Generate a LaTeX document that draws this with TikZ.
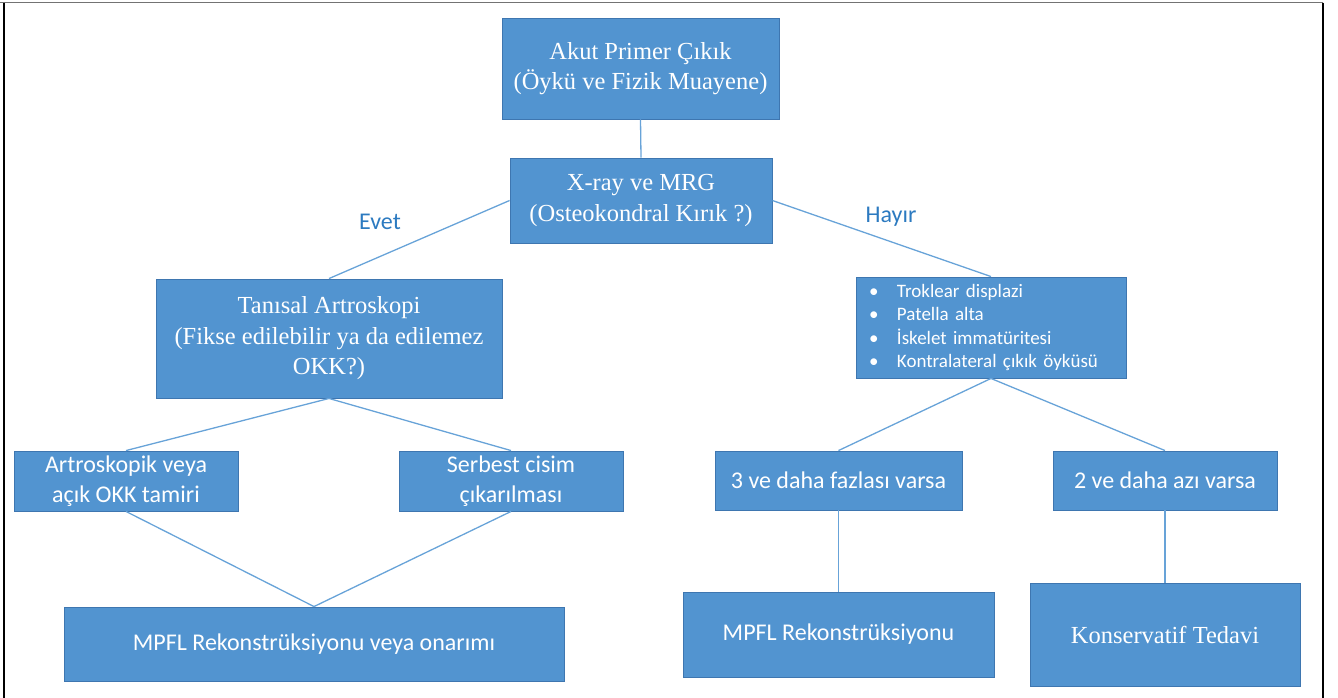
\documentclass[tikz,border=0pt]{standalone}
\usepackage{fontspec}
\setmainfont{Liberation Serif}
\newfontfamily\calibri{Carlito}
\usepackage{xcolor}
\definecolor{boxfill}{RGB}{82,148,208}
\definecolor{boxline}{RGB}{62,118,176}
\definecolor{linkblue}{RGB}{104,163,216}
\definecolor{labelblue}{RGB}{44,122,192}
\usepackage{tikz}
\usetikzlibrary{positioning}

\begin{document}
\begin{tikzpicture}[x=1pt,y=-1pt]
    \useasboundingbox (0,0) rectangle (1338,697);
    \tikzstyle{box}=[rectangle, draw=boxline, line width=0.9pt, fill=boxfill, text=white, inner sep=0pt, align=center]
    \tikzstyle{serifbox}=[box, font=\fontsize{24.5}{30.5}\selectfont]
    \tikzstyle{sansbox}=[box, font=\calibri\fontsize{24}{30}\selectfont]
    \tikzstyle{link}=[draw=linkblue, line width=1.3pt]
    \tikzstyle{answer}=[font=\calibri\fontsize{24}{28}\selectfont, text=labelblue]

    \draw [line width=1.2pt, color=black!55] (0,2.5) -- (1323,2.5);
    \draw [line width=1.2pt] (4,2.5) -- (4,700);
    \draw [line width=1.2pt] (1323,2.5) -- (1323,700);

    \node [serifbox, minimum width=277pt, minimum height=101pt] (akut) at (640.5,68.5)
        {Akut Primer Çıkık\\(Öykü ve Fizik Muayene)};
    \node [serifbox, minimum width=262pt, minimum height=85pt] (xray) at (641,200.5)
        {X-ray ve MRG\\(Osteokondral Kırık ?)};
    \node [serifbox, minimum width=346pt, minimum height=119pt] (tanisal) at (329,338.5)
        {Tanısal Artroskopi\\(Fikse edilebilir ya da edilemez\\OKK?)};
    \node [box, minimum width=270pt, minimum height=101pt, inner xsep=13pt, text width=244pt, align=left,
        font=\calibri\fontsize{19}{23.5}\selectfont] (risk) at (991,327.5)
        {\makebox[28pt][l]{•}Troklear displazi\\
         \makebox[28pt][l]{•}Patella alta\\
         \makebox[28pt][l]{•}İskelet immatüritesi\\
         \makebox[28pt][l]{•}Kontralateral çıkık öyküsü};

    \node [sansbox, minimum width=224pt, minimum height=60pt] (artro) at (126,481)
        {Artroskopik veya\\açık OKK tamiri};
    \node [sansbox, minimum width=224pt, minimum height=60pt] (serbest) at (511,481)
        {Serbest cisim\\çıkarılması};
    \node [sansbox, minimum width=247pt, minimum height=59pt] (fazla) at (838.5,480.5)
        {3 ve daha fazlası varsa};
    \node [sansbox, minimum width=224pt, minimum height=59pt] (az) at (1165,480.5)
        {2 ve daha azı varsa};

    \node [sansbox, minimum width=500pt, minimum height=74pt] (mpflon) at (314,644)
        {MPFL Rekonstrüksiyonu veya onarımı};
    \node [sansbox, minimum width=311pt, minimum height=85pt] (mpfl) at (838.5,634.5)
        {MPFL Rekonstrüksiyonu};
    \node [serifbox, minimum width=270pt, minimum height=103pt] (kons) at (1165,634.5)
        {Konservatif Tedavi};

    \node [answer] (evet) at (380,222) {Evet};
    \node [answer] (hayir) at (891,217) {Hayır};

    \draw [link] (akut.south) -- (xray.north);
    \draw [link] (xray.west) -- (tanisal.north);
    \draw [link] (xray.east) -- (risk.north);
    \draw [link] (tanisal.south) -- (artro.north);
    \draw [link] (tanisal.south) -- (serbest.north);
    \draw [link] (artro.south) -- (mpflon.north);
    \draw [link] (serbest.south) -- (mpflon.north);
    \draw [link] (risk.south) -- (fazla.north);
    \draw [link] (risk.south) -- (az.north);
    \draw [link] (fazla.south) -- (mpfl.north);
    \draw [link] (az.south) -- (kons.north);
\end{tikzpicture}
\end{document}
